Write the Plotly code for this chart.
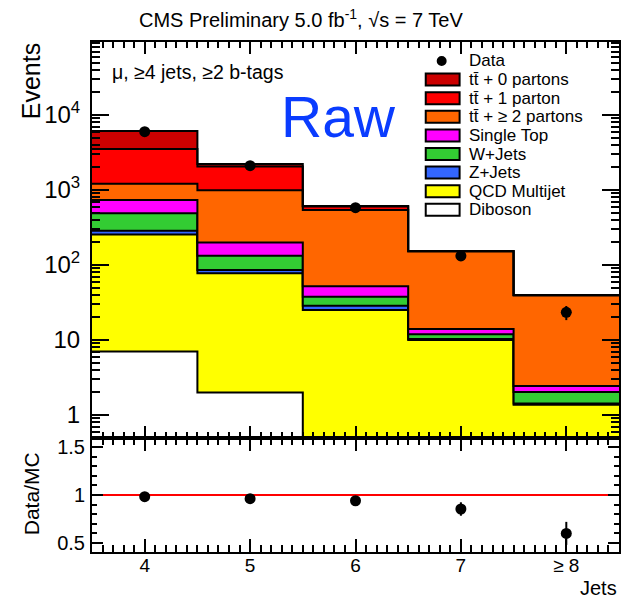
import numpy as np
import plotly.graph_objects as go

# ---------------- data ----------------
jet_labels = ["4", "5", "6", "7", "≥ 8"]
bin_centers = [4, 5, 6, 7, 8]
bin_edges = [3.5, 4.5, 5.5, 6.5, 7.5, 8.5]

# stacked components, bottom -> top
diboson = [7.0, 2.0, 0.3, 0.1, 0.05]
qcd = [247, 75.4, 24.8, 9.9, 1.32]
zjets = [33, 8.6, 3.6, 0.3, 0.05]
wjets = [202, 47, 9.1, 1.6, 0.61]
single_top = [247, 66, 14.2, 2.1, 0.41]
tt_2p = [477, 792, 489, 137, 36.6]
tt_1p = [2307, 1059, 63, 2.2, 0.6]
tt_0p = [2600, 170, 8, 0.8, 0.2]

data_counts = [5990, 2110, 581, 132, 23.4]
data_errors = [77, 46, 24, 11, 5]

ratio_vals = [0.983, 0.962, 0.94, 0.854, 0.60]
ratio_errs = [0.02, 0.025, 0.04, 0.07, 0.12]

proc_names = ["Diboson", "QCD Multijet", "Z+Jets", "W+Jets", "Single Top",
              "tt̄ + ≥ 2 partons", "tt̄ + 1 parton", "tt̄ + 0 partons"]
proc_values = [diboson, qcd, zjets, wjets, single_top, tt_2p, tt_1p, tt_0p]
proc_colors = ["#FFFFFF", "#FFFF00", "#3366FF", "#33CC33", "#FF00FF",
               "#FF6600", "#FF0000", "#CC0000"]

# ---------------- layout helpers ----------------
W, H = 623, 600
ML, MR, MT, MB = 92, 2, 42, 48
PW = W - ML - MR
PH = H - MT - MB
split = 114 / PH


def px(x):
    return (x - ML) / PW


def py(y):
    return 1 - (y - MT) / PH


FONT = "Liberation Sans, Arial, Helvetica, sans-serif"

fig = go.Figure()

# stacked histogram as step-filled areas
cum = np.cumsum(np.array(proc_values, dtype=float), axis=0)
for i, (name, col) in enumerate(zip(proc_names, proc_colors)):
    yv = list(cum[i]) + [cum[i][-1]]
    fig.add_trace(go.Scatter(
        x=bin_edges, y=yv, mode="lines", line=dict(shape="hv", color="black", width=2),
        fill="none" if i == 0 else "tonexty", fillcolor=col, name=name,
        showlegend=False, hoverinfo="skip", xaxis="x", yaxis="y"))

# data points
fig.add_trace(go.Scatter(
    x=bin_centers, y=data_counts, mode="markers",
    marker=dict(color="black", size=11),
    error_y=dict(type="data", array=data_errors, color="black", thickness=2, width=0),
    showlegend=False, xaxis="x", yaxis="y"))

# ratio points
fig.add_trace(go.Scatter(
    x=bin_centers, y=ratio_vals, mode="markers",
    marker=dict(color="black", size=11),
    error_y=dict(type="data", array=ratio_errs, color="black", thickness=2, width=0),
    showlegend=False, xaxis="x2", yaxis="y2"))

# ---------------- axes ----------------
major_x = sorted(bin_centers + bin_edges)
major_x_text = [jet_labels[bin_centers.index(v)] if v in bin_centers else "" for v in major_x]
minor_x = [round(3.5 + 0.1 * k, 2) for k in range(51)]

log_major = [1, 10, 100, 1000, 10000]
log_major_text = ["1", "10", "10<sup>2</sup>", "10<sup>3</sup>", "10<sup>4</sup>"]
log_minor = [m * 10 ** e for e in range(-1, 5) for m in range(2, 10)]

ratio_major = [0.5, 1, 1.5]
ratio_minor = [round(0.4 + 0.1 * k, 2) for k in range(13)]

common = dict(showline=True, linecolor="black", linewidth=2, mirror="allticks",
              ticks="inside", tickcolor="black", tickwidth=1.5, showgrid=False,
              zeroline=False)

fig.update_layout(
    width=W, height=H, margin=dict(l=ML, r=MR, t=MT, b=MB),
    paper_bgcolor="white", plot_bgcolor="white",
    font=dict(family=FONT, color="black"),
    xaxis=dict(domain=[0, 1], anchor="y", range=[3.5, 8.5], tickmode="array",
               tickvals=major_x, ticktext=major_x_text, showticklabels=False,
               ticklen=12,
               minor=dict(tickmode="array", tickvals=minor_x, ticks="inside",
                          ticklen=6, tickcolor="black", tickwidth=1.5),
               **common),
    yaxis=dict(domain=[split, 1], anchor="x", type="log",
               range=[-0.307, 4.973], tickmode="array", tickvals=log_major,
               ticktext=log_major_text, ticklen=17,
               tickfont=dict(size=24), ticklabelstandoff=5,
               minor=dict(tickmode="array", tickvals=log_minor, ticks="inside",
                          ticklen=8, tickcolor="black", tickwidth=1.5),
               **common),
    xaxis2=dict(domain=[0, 1], anchor="y2", range=[3.5, 8.5], tickmode="array",
                tickvals=major_x, ticktext=major_x_text, ticklen=13,
                tickfont=dict(size=19), ticklabelstandoff=-5,
                minor=dict(tickmode="array", tickvals=minor_x, ticks="inside",
                           ticklen=7, tickcolor="black", tickwidth=1.5),
                **common),
    yaxis2=dict(domain=[0, split], anchor="x2", range=[0.406, 1.594],
                tickmode="array", tickvals=ratio_major,
                ticktext=["0.5", "1", "1.5"], ticklen=11,
                tickfont=dict(size=20), ticklabelstandoff=1,
                minor=dict(tickmode="array", tickvals=ratio_minor, ticks="inside",
                           ticklen=5, tickcolor="black", tickwidth=1.5),
                **common),
)

# reference line at 1
fig.add_shape(type="line", xref="x2 domain", yref="y2", x0=0, x1=1, y0=1, y1=1,
              line=dict(color="red", width=2), layer="below")

# ---------------- texts ----------------
ann = []
ann.append(dict(text="CMS Preliminary 5.0 fb<sup>-1</sup>, √s = 7 TeV",
                x=px(302), y=py(19), xref="paper", yref="paper",
                xanchor="center", yanchor="middle", showarrow=False,
                font=dict(size=20)))
ann.append(dict(text="Events", x=px(31), y=py(41), xref="paper", yref="paper",
                xanchor="center", yanchor="top", textangle=-90, showarrow=False,
                font=dict(size=25)))
ann.append(dict(text="Data/MC", x=px(31), y=py(494), xref="paper", yref="paper",
                xanchor="center", yanchor="middle", textangle=-90, showarrow=False,
                font=dict(size=21)))
ann.append(dict(text="Jets", x=px(621), y=py(588), xref="paper", yref="paper",
                xanchor="right", yanchor="middle", showarrow=False,
                font=dict(size=20)))
ann.append(dict(text="μ, ≥4 jets, ≥2 b-tags", x=px(110), y=py(72),
                xref="paper", yref="paper", xanchor="left", yanchor="middle",
                showarrow=False, font=dict(size=19.5)))
ann.append(dict(text="Raw", x=px(280), y=py(117), xref="paper", yref="paper",
                xanchor="left", yanchor="middle", showarrow=False,
                font=dict(size=57, color="#0A3CFF")))

# manual legend (top to bottom)
leg_y0 = 61
leg_dy = 18.6
fig.add_shape(type="circle", xref="paper", yref="paper",
              x0=px(443 - 5), x1=px(443 + 5), y0=py(leg_y0 - 5), y1=py(leg_y0 + 5),
              fillcolor="black", line=dict(color="black", width=0))
ann.append(dict(text="Data", x=px(468), y=py(leg_y0), xref="paper", yref="paper",
                xanchor="left", yanchor="middle", showarrow=False, font=dict(size=17)))
for k, idx in enumerate(range(len(proc_names) - 1, -1, -1)):
    yc = leg_y0 + leg_dy * (k + 1)
    fig.add_shape(type="rect", xref="paper", yref="paper",
                  x0=px(427), x1=px(461), y0=py(yc - 6), y1=py(yc + 6),
                  fillcolor=proc_colors[idx], line=dict(color="black", width=2))
    ann.append(dict(text=proc_names[idx], x=px(468), y=py(yc), xref="paper",
                    yref="paper", xanchor="left", yanchor="middle",
                    showarrow=False, font=dict(size=17)))

fig.update_layout(annotations=ann)

fig.write_html("out.html")
